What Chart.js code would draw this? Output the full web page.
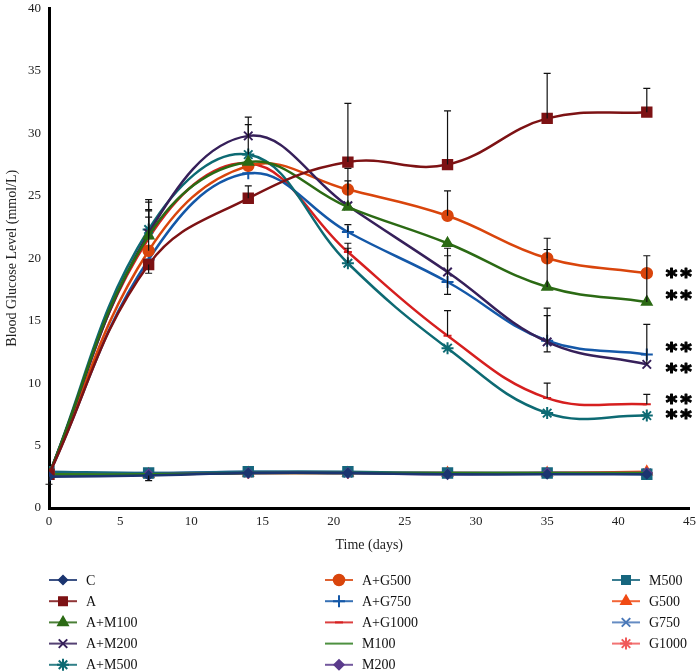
<!DOCTYPE html>
<html>
<head>
<meta charset="utf-8">
<script src="https://cdn.jsdelivr.net/npm/chart.js@4.4.0/dist/chart.umd.min.js"></script>
<style>
html,body{margin:0;padding:0;background:#fff;}
#wrap{width:698px;height:671px;position:relative;}
</style>
</head>
<body>
<div id="wrap"><canvas id="c" width="698" height="671"></canvas></div>
<script>
// ---- data ----
const days = [0, 7, 14, 21, 28, 35, 42];
const xTicks = [0, 5, 10, 15, 20, 25, 30, 35, 40, 45];
const yTicks = [0, 5, 10, 15, 20, 25, 30, 35, 40];

const seriesNames = ['C','A','A+M100','A+M200','A+M500','A+G500','A+G750','A+G1000','M100','M200','M500','G500','G750','G1000'];

const vC      = [2.5, 2.6, 2.8, 2.8, 2.7, 2.7, 2.7];
const vA      = [2.7, 19.5, 24.8, 27.7, 27.5, 31.2, 31.7];
const vAM100  = [2.7, 21.8, 27.7, 24.1, 21.2, 17.7, 16.5];
const vAM200  = [2.7, 22.0, 29.8, 24.2, 18.9, 13.3, 11.5];
const vAM500  = [2.7, 22.3, 28.3, 19.6, 12.8, 7.6, 7.4];
const vAG500  = [2.7, 20.6, 27.4, 25.5, 23.4, 20.0, 18.8];
const vAG750  = [2.7, 19.9, 26.8, 22.1, 18.1, 13.4, 12.3];
const vAG1000 = [2.7, 21.6, 27.6, 20.5, 13.8, 8.8, 8.3];
const vM100   = [2.7, 2.7, 2.8, 2.8, 2.8, 2.8, 2.8];
const vM200   = [2.6, 2.7, 2.8, 2.8, 2.7, 2.8, 2.8];
const vM500   = [2.9, 2.8, 2.9, 2.9, 2.8, 2.8, 2.7];
const vG500   = [2.7, 2.7, 2.8, 2.8, 2.8, 2.8, 2.9];
const vG750   = [2.8, 2.8, 2.9, 2.8, 2.8, 2.8, 2.8];
const vG1000  = [2.7, 2.7, 2.8, 2.8, 2.8, 2.8, 2.8];

// error bars (upper / lower), null = none
const eUpA      = [null, null, 1.0, 4.7, 4.3, 3.6, 1.9];
const eDnA      = [null, 0.7, null, null, null, null, null];
const eUpAM100  = [null, 2.1, null, null, null, 3.0, 3.7];
const eUpAM200  = [null, 2.5, 1.5, 2.0, 1.9, 2.7, 3.2];
const eDnAM200  = [null, null, null, null, null, 0.8, null];
const eUpAM500  = [null, 2.4, 2.4, 1.2, null, null, null];
const eUpAG500  = [null, 2.7, null, 1.7, 2.0, 1.6, null];
const eUpAG750  = [null, null, null, 0.6, 2.1, 2.0, null];
const eDnAG750  = [null, null, null, null, 1.0, null, null];
const eUpAG1000 = [null, 2.2, null, 0.7, 2.0, 1.2, 0.8];
const eDnC      = [0.6, 0.4, null, null, null, null, null];

// significance markers
const sigText = '**';
const sigY = [18.85, 17.1, 12.9, 11.2, 8.75, 7.55];

// ---- styles ----
function mk(label, vals, color, style, radius, opts) {
  return Object.assign({
    label: label,
    data: days.map((d, i) => ({x: d, y: vals[i]})),
    borderColor: color,
    backgroundColor: color,
    pointBackgroundColor: color,
    pointBorderColor: color,
    pointStyle: style,
    pointRadius: radius,
    pointHoverRadius: radius,
    pointBorderWidth: 1.5,
    borderWidth: 2.5,
    tension: 0.4,
    fill: false
  }, opts || {});
}

const datasets = [
  mk(seriesNames[0],  vC,      '#1b3570', 'rectRot', 4.5, {eDn: eDnC}),
  mk(seriesNames[1],  vA,      '#7d1214', 'rect', 7, {eUp: eUpA, eDn: eDnA}),
  mk(seriesNames[2],  vAM100,  '#2b6a14', 'triangle', 6, {eUp: eUpAM100}),
  mk(seriesNames[3],  vAM200,  '#36205a', 'crossRot', 6, {eUp: eUpAM200, eDn: eDnAM200, pointBorderWidth: 2}),
  mk(seriesNames[4],  vAM500,  '#0d6a73', 'star', 6, {eUp: eUpAM500, pointBorderWidth: 2}),
  mk(seriesNames[5],  vAG500,  '#d9450c', 'circle', 5.5, {eUp: eUpAG500}),
  mk(seriesNames[6],  vAG750,  '#1458a8', 'cross', 6, {eUp: eUpAG750, eDn: eDnAG750, pointBorderWidth: 2}),
  mk(seriesNames[7],  vAG1000, '#d61f1f', 'line', 4, {eUp: eUpAG1000, pointBorderWidth: 2}),
  mk(seriesNames[8],  vM100,   '#2e7d1e', 'circle', 0),
  mk(seriesNames[9],  vM200,   '#5b3b8c', 'rectRot', 5),
  mk(seriesNames[10], vM500,   '#17667e', 'rect', 7),
  mk(seriesNames[11], vG500,   '#f04a14', 'triangle', 6),
  mk(seriesNames[12], vG750,   '#4a78b8', 'crossRot', 6, {pointBorderWidth: 2}),
  mk(seriesNames[13], vG1000,  '#f05a5a', 'star', 6, {pointBorderWidth: 2})
];

// ---- plugins ----
const errorBars = {
  id: 'errorBars',
  afterDatasetsDraw(chart) {
    const ctx = chart.ctx, xs = chart.scales.x, ys = chart.scales.y;
    ctx.save();
    ctx.strokeStyle = '#111';
    ctx.lineWidth = 1.2;
    chart.data.datasets.forEach(ds => {
      days.forEach((d, i) => {
        const v = ds.data[i].y;
        const up = ds.eUp ? ds.eUp[i] : null;
        const dn = ds.eDn ? ds.eDn[i] : null;
        if (up == null && dn == null) return;
        const px = xs.getPixelForValue(d);
        const top = ys.getPixelForValue(v + (up || 0));
        const bot = ys.getPixelForValue(v - (dn || 0));
        ctx.beginPath();
        ctx.moveTo(px, top); ctx.lineTo(px, bot);
        if (up != null) { ctx.moveTo(px - 3.5, top); ctx.lineTo(px + 3.5, top); }
        if (dn != null) { ctx.moveTo(px - 3.5, bot); ctx.lineTo(px + 3.5, bot); }
        ctx.stroke();
      });
    });
    ctx.restore();
  }
};

const sigMarks = {
  id: 'sigMarks',
  afterDatasetsDraw(chart) {
    const ctx = chart.ctx, xs = chart.scales.x, ys = chart.scales.y;
    ctx.save();
    ctx.fillStyle = '#000';
    ctx.strokeStyle = '#000';
    ctx.lineWidth = 1.2;
    ctx.lineJoin = 'round';
    ctx.font = 'bold 22px "DejaVu Sans"';
    ctx.letterSpacing = '3px';
    ctx.textAlign = 'left';
    ctx.textBaseline = 'middle';
    sigY.forEach(v => {
      const px = xs.getPixelForValue(days[days.length - 1]) + 19;
      const py = ys.getPixelForValue(v) + 5.5;
      ctx.fillText(sigText, px, py);
      ctx.strokeText(sigText, px, py);
    });
    ctx.restore();
  }
};

const LEG_X = [49, 325, 612];
const LEG_Y0 = 580, LEG_DY = 21.2;
const colLegend = {
  id: 'colLegend',
  afterDraw(chart) {
    const ctx = chart.ctx;
    chart.data.datasets.forEach((ds, i) => {
      const col = Math.floor(i / 5), row = i % 5;
      const x = LEG_X[col], y = LEG_Y0 + row * LEG_DY;
      ctx.save();
      ctx.strokeStyle = ds.borderColor;
      ctx.globalAlpha = 0.85;
      ctx.lineWidth = 2;
      ctx.beginPath(); ctx.moveTo(x, y); ctx.lineTo(x + 28, y); ctx.stroke();
      ctx.globalAlpha = 1;
      if (ds.pointRadius > 0) {
        ctx.fillStyle = ds.pointBackgroundColor;
        ctx.strokeStyle = ds.pointBorderColor;
        ctx.lineWidth = ds.pointBorderWidth;
        Chart.helpers.drawPoint(ctx, {pointStyle: ds.pointStyle, radius: Math.min(ds.pointRadius, 6), rotation: 0, borderWidth: ds.pointBorderWidth}, x + 14, y);
      }
      ctx.fillStyle = '#111';
      ctx.font = '14px "Liberation Serif"';
      ctx.textAlign = 'left';
      ctx.textBaseline = 'middle';
      ctx.fillText(ds.label, x + 37, y + 1);
      ctx.restore();
    });
  }
};

new Chart(document.getElementById('c'), {
  type: 'line',
  data: { datasets: datasets },
  options: {
    responsive: false,
    animation: false,
    devicePixelRatio: 1,
    layout: { padding: { top: 5, right: 8, bottom: 113, left: 0 } },
    plugins: { legend: { display: false }, tooltip: { enabled: false } },
    scales: {
      x: {
        type: 'linear', min: 0, max: 45,
        afterBuildTicks: s => { s.ticks = xTicks.map(v => ({value: v})); },
        afterFit: s => { s.height = 50; s.paddingLeft = 0; s.paddingRight = 0; },
        grid: { display: false, drawTicks: false },
        border: { display: true, color: '#000', width: 3 },
        ticks: { color: '#222', padding: 6, maxRotation: 0, font: { family: 'Liberation Serif', size: 13 } },
        title: { display: true, text: 'Time (days)', color: '#222', padding: { top: 2 }, font: { family: 'Liberation Serif', size: 14 } }
      },
      y: {
        type: 'linear', min: 0, max: 40,
        afterBuildTicks: s => { s.ticks = yTicks.map(v => ({value: v})); },
        afterFit: s => { s.width = 49; s.paddingTop = 0; s.paddingBottom = 0; },
        grid: { display: false, drawTicks: false },
        border: { display: true, color: '#000', width: 3 },
        ticks: { color: '#222', padding: 8, font: { family: 'Liberation Serif', size: 13 } },
        title: { display: true, text: 'Blood Glucose Level (mmol/L)', color: '#222', padding: { bottom: 4 }, font: { family: 'Liberation Serif', size: 14 } }
      }
    }
  },
  plugins: [errorBars, sigMarks, colLegend]
});
</script>
</body>
</html>
